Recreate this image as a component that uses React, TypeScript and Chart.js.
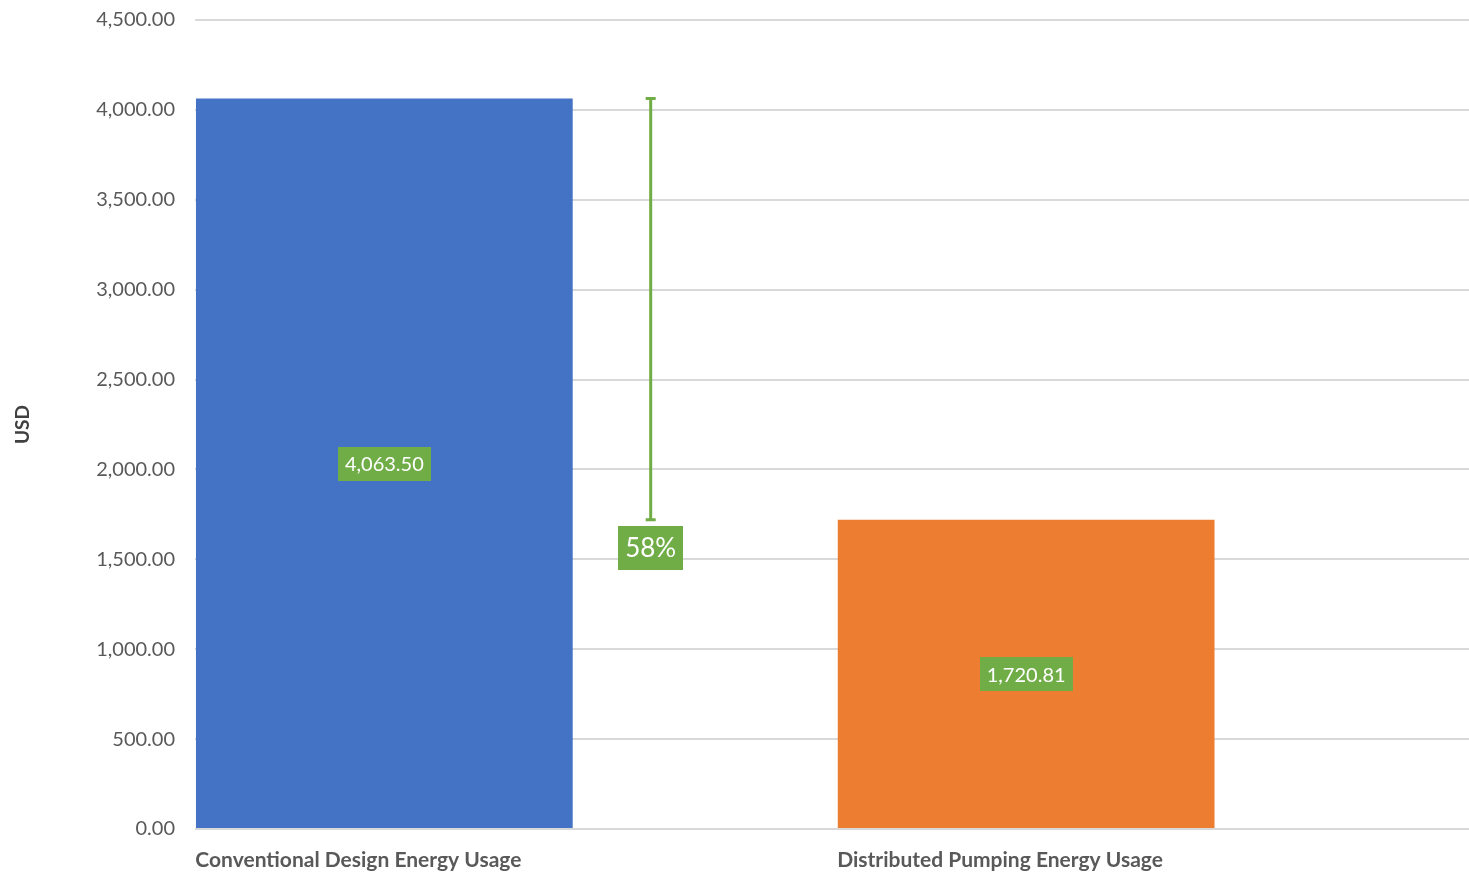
import React, { useEffect, useRef } from "react";
import { Chart, registerables } from "chart.js";

Chart.register(...registerables);

// Annual pumping energy cost comparison
const categories = ["Conventional Design Energy Usage", "Distributed Pumping Energy Usage"];
const energyCostUsd = [4063.5, 1720.81];
const barColors = ["#4472C4", "#ED7D31"];
const yTickValues = [0, 500, 1000, 1500, 2000, 2500, 3000, 3500, 4000, 4500];

const LABEL_GREEN = "#70AD47";
const TEXT_GREY = "#595959";
const FONT = "Lato, 'Open Sans', sans-serif";

// horizontal location of the savings bracket, in x-scale units
const savingsMarkerX = 0.415;

const fmt = (v: number) =>
  v.toLocaleString("en-US", { minimumFractionDigits: 2, maximumFractionDigits: 2 });

const savingsPct = Math.round(((energyCostUsd[0] - energyCostUsd[1]) / energyCostUsd[0]) * 100);

function drawBox(ctx: CanvasRenderingContext2D, cx: number, cy: number, text: string, font: string, padX: number, h: number) {
  ctx.save();
  ctx.font = font;
  const w = ctx.measureText(text).width + padX * 2;
  ctx.fillStyle = LABEL_GREEN;
  ctx.fillRect(Math.round(cx - w / 2), Math.round(cy - h / 2), Math.round(w), h);
  ctx.fillStyle = "#ffffff";
  ctx.textAlign = "center";
  ctx.textBaseline = "middle";
  ctx.fillText(text, cx, cy + 1);
  ctx.restore();
}

const annotations = {
  id: "annotations",
  afterDatasetsDraw(chart: any) {
    const { ctx } = chart;
    const x = chart.scales.x;
    const y = chart.scales.y;
    const meta = chart.getDatasetMeta(0);

    // value labels in the middle of each bar
    meta.data.forEach((bar: any, i: number) => {
      const cy = y.getPixelForValue(energyCostUsd[i] / 2);
      drawBox(ctx, bar.x, cy, fmt(energyCostUsd[i]), `20px ${FONT}`, 7, 34);
    });

    // savings bracket between the two bar heights
    const mx = x.getPixelForValue(savingsMarkerX);
    const yTop = y.getPixelForValue(energyCostUsd[0]);
    const yBot = y.getPixelForValue(energyCostUsd[1]);
    ctx.save();
    ctx.strokeStyle = LABEL_GREEN;
    ctx.lineWidth = 3;
    ctx.beginPath();
    ctx.moveTo(mx, yTop);
    ctx.lineTo(mx, yBot);
    ctx.moveTo(mx - 5, yTop);
    ctx.lineTo(mx + 5, yTop);
    ctx.moveTo(mx - 5, yBot);
    ctx.lineTo(mx + 5, yBot);
    ctx.stroke();
    ctx.restore();

    drawBox(ctx, mx, yBot + 28, `${savingsPct}%`, `26px ${FONT}`, 7, 44);
  },
};

export default function App() {
  const canvasRef = useRef<HTMLCanvasElement | null>(null);

  useEffect(() => {
    document.body.style.margin = "0";
    const canvas = canvasRef.current;
    if (!canvas) return;

    const chart = new Chart(canvas, {
      type: "bar",
      data: {
        datasets: [
          {
            data: energyCostUsd.map((v, i) => ({ x: i, y: v })),
            backgroundColor: barColors,
            borderWidth: 0,
            categoryPercentage: 0.587,
            barPercentage: 1,
          },
        ],
      },
      options: {
        responsive: false,
        animation: false,
        layout: { padding: 0 },
        plugins: {
          legend: { display: false },
          tooltip: { enabled: false },
        },
        scales: {
          x: {
            type: "linear",
            offset: false,
            min: -0.295,
            max: 1.69,
            grid: { display: false },
            border: { display: false },
            afterBuildTicks: (scale: any) => {
              scale.ticks = categories.map((_, i) => ({ value: i }));
            },
            afterFit: (scale: any) => {
              scale.height = 47;
            },
            ticks: {
              autoSkip: false,
              maxRotation: 0,
              align: "start",
              labelOffset: -189,
              padding: 11,
              color: TEXT_GREY,
              font: { family: FONT, size: 21, weight: "bold" },
              callback: (v: any) => categories[v] ?? "",
            },
          },
          y: {
            min: 0,
            max: 4500,
            afterBuildTicks: (scale: any) => {
              scale.ticks = yTickValues.map((value) => ({ value }));
            },
            afterFit: (scale: any) => {
              scale.width = 195;
              scale.paddingTop = 20;
              scale.paddingBottom = 12;
            },
            grid: { color: "#d9d9d9", lineWidth: 2, drawTicks: false },
            border: { display: false },
            ticks: {
              padding: 20,
              color: TEXT_GREY,
              font: { family: FONT, size: 20 },
              callback: (v: any) => fmt(Number(v)),
            },
            title: {
              display: true,
              text: "USD",
              color: "#404040",
              padding: { top: 11, bottom: 0 },
              font: { family: FONT, size: 19, weight: "bold" },
            },
          },
        },
      },
      plugins: [annotations],
    });

    return () => chart.destroy();
  }, []);

  return (
    <div style={{ width: 1469, height: 876, background: "#ffffff", overflow: "hidden", position: "relative" }}>
      <canvas ref={canvasRef} width={1469} height={876} />
    </div>
  );
}
